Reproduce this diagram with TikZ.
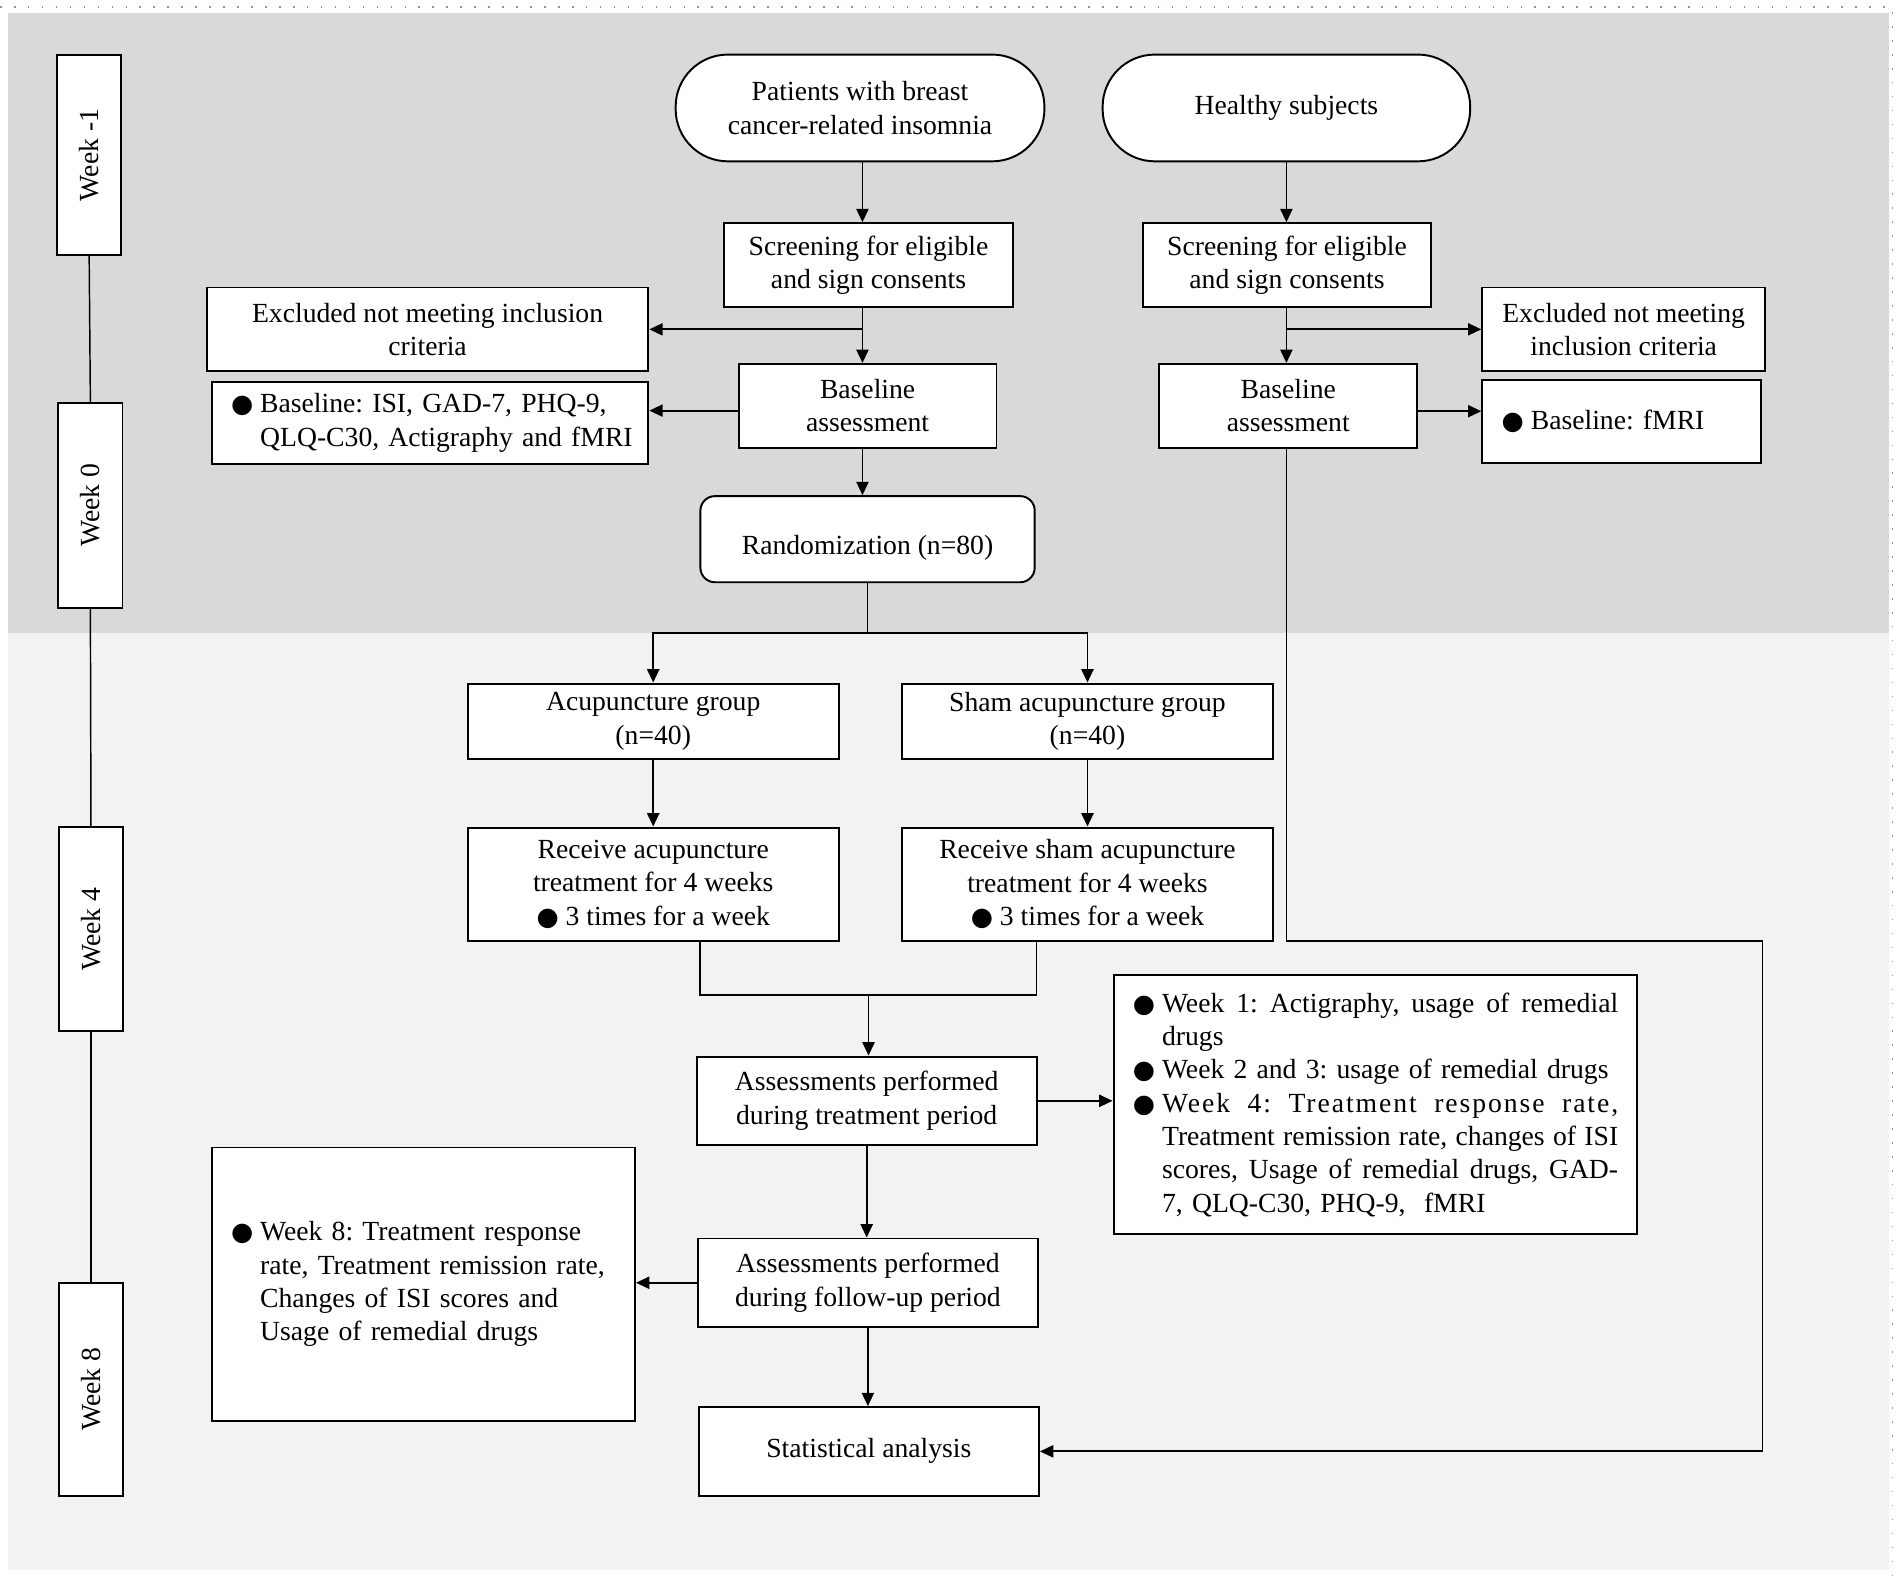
\documentclass[tikz,border=0pt]{standalone}
\usepackage{fontspec}
\setmainfont{Liberation Serif}
\newfontfamily\bulfont{DejaVu Sans}
\usetikzlibrary{arrows.meta}
\frenchspacing
\newcommand{\mainsize}{\fontsize{22.8}{27.5}\selectfont\frenchspacing}
\newcommand{\bul}{\makebox[24pt][l]{\bulfont\fontsize{21}{21}\selectfont ●}}
\newcommand{\ind}{\hspace*{24pt}}
\newcommand{\jline}[2][376pt]{\hbox to #1{\spaceskip=0.2em plus 1fil\relax #2}}
\definecolor{bgdark}{HTML}{D9D9D9}
\definecolor{bglight}{HTML}{F2F2F2}
\definecolor{dotcol}{RGB}{120,160,170}
\tikzset{
  box/.style={draw=black, line width=1.6pt, fill=white, align=center, inner sep=0pt, font=\mainsize},
  listbox/.style={box, align=left, inner xsep=16pt},
  stadium/.style={box, rounded corners=43pt},
  weekbox/.style={box, rotate=90},
  conn/.style={line width=1.5pt, -{Triangle[length=11pt,width=10pt]}},
  plain/.style={line width=1.5pt},
  timeline/.style={line width=1.2pt},
  dotborder/.style={dotcol, line width=1.3pt, dash pattern=on 1.3pt off 10.2pt}
}
\begin{document}
\begin{tikzpicture}[x=1pt,y=-1pt]
\useasboundingbox (0,0) rectangle (1568,1304);
\fill[white] (0,0) rectangle (1568,1304);
\fill[bgdark] (7,10.5) rectangle (1557.5,521.6);
\fill[bglight] (7,521.6) rectangle (1557.5,1294);
\draw[dotborder] (0,6) -- (1560,6) -- (1560,1304);

% week boxes
\node[weekbox, minimum width=164.6pt, minimum height=53pt] (wm1) at (73.5,127.7) {Week -1};
\node[weekbox, minimum width=169pt, minimum height=53pt] (w0) at (74.5,416.5) {Week 0};
\node[weekbox, minimum width=168pt, minimum height=53pt] (w4) at (75,766) {Week 4};
\node[weekbox, minimum width=175.5pt, minimum height=53pt] (w8) at (75,1145.25) {Week 8};
\draw[timeline] (wm1.west) -- (w0.east);
\draw[timeline] (w0.west) -- (w4.east);
\draw[timeline] (w4.west) -- (w8.east);

% left column (patients)
\node[stadium, minimum width=304pt, minimum height=88pt] (pat) at (709,89) {Patients with breast\\cancer-related insomnia};
\node[box, minimum width=238pt, minimum height=69pt] (scrL) at (716,218.5) {Screening for eligible\\and sign consents};
\node[box, minimum width=364pt, minimum height=69pt] (excL) at (352.5,271.5) {Excluded not meeting inclusion\\criteria};
\node[box, minimum width=212.5pt, minimum height=69pt] (basL) at (715.25,334.5) {Baseline\\assessment};
\node[listbox, text width=328pt, minimum height=68pt] (bbL) at (354.5,348.7) {\bul\mbox{Baseline: ISI, GAD-7, PHQ-9,}\\\ind\mbox{QLQ-C30, Actigraphy and fMRI}};
\node[box, rounded corners=12pt, minimum width=275.6pt, minimum height=71pt] (rand) at (715.2,444.5) {\raisebox{-7pt}[\height][\depth]{Randomization (n=80)}};
\node[box, minimum width=306pt, minimum height=62pt] (acu) at (538.5,594.5) {Acupuncture group\\(n=40)};
\node[box, minimum width=306pt, minimum height=62pt] (sham) at (896.5,594.5) {Sham acupuncture group\\(n=40)};
\node[box, minimum width=306pt, minimum height=93.6pt] (racu) at (538.5,729) {Receive acupuncture\\treatment for 4 weeks\\\bul 3 times for a week};
\node[box, minimum width=306pt, minimum height=93.6pt] (rsham) at (896.5,729) {Receive sham acupuncture\\treatment for 4 weeks\\\bul 3 times for a week};
\node[box, minimum width=280pt, minimum height=73pt] (atr) at (714.5,907.5) {Assessments performed\\during treatment period};
\node[listbox, text width=399.5pt, minimum height=213.5pt] (w1box) at (1133.75,910.75) {\bul\jline{Week 1: Actigraphy, usage of remedial}\\\ind drugs\\\bul\jline[368pt]{Week 2 and 3: usage of remedial drugs}\\\bul\jline{\addfontfeature{LetterSpace=7}Week 4: Treatment response rate,}\\\ind\jline{Treatment remission rate, changes of ISI}\\\ind\jline{scores, Usage of remedial drugs, GAD-}\\\ind\mbox{7, QLQ-C30, PHQ-9,\ \ fMRI}};
\node[box, minimum width=280pt, minimum height=73pt] (afu) at (715.5,1057.5) {Assessments performed\\during follow-up period};
\node[listbox, text width=317pt, minimum height=225.5pt] (w8box) at (349,1058.75) {\bul\mbox{Week 8: Treatment response}\\\ind\mbox{rate, Treatment remission rate,}\\\ind\mbox{Changes of ISI scores and}\\\ind\mbox{Usage of remedial drugs}};
\node[box, minimum width=280.5pt, minimum height=73pt] (stat) at (716.25,1196.5) {Statistical analysis};

% right column (healthy)
\node[stadium, minimum width=303pt, minimum height=88pt] (hea) at (1060.5,89) {Healthy subjects};
\node[box, minimum width=238pt, minimum height=69pt] (scrR) at (1061,218.5) {Screening for eligible\\and sign consents};
\node[box, minimum width=233pt, minimum height=69pt] (excR) at (1338.5,271.5) {Excluded not meeting\\inclusion criteria};
\node[box, minimum width=213pt, minimum height=69pt] (basR) at (1062,334.5) {Baseline\\assessment};
\node[listbox, text width=198pt, minimum height=68pt] (fmri) at (1337,347.5) {\bul\mbox{Baseline: fMRI}};

% helper coordinates
\coordinate (xL) at (711,0);
\coordinate (xR) at (1060.5,0);
\coordinate (sp) at (715.2,521.6);
\coordinate (mA) at (577.4,0);
\coordinate (mB) at (854.5,0);
\coordinate (mg) at (716,820);
\coordinate (c1) at (1453,775.8);

% connectors left
\draw[conn] (pat.south -| xL) -- (scrL.north -| xL);
\draw[conn] (scrL.south -| xL) -- (basL.north -| xL);
\draw[conn] (excL.east -| xL) -- (excL.east);
\draw[conn] ([yshift=-4pt]basL.west) -- ([yshift=-4pt]basL.west -| bbL.east);
\draw[conn] (basL.south -| xL) -- (rand.north -| xL);
\draw[plain] (rand.south) -- (sp);
\draw[conn] (sp) -| (acu.north);
\draw[conn] (sp) -| (sham.north);
\draw[conn] (acu.south) -- (racu.north);
\draw[conn] (sham.south) -- (rsham.north);
\draw[plain] (racu.south -| mA) |- (mg) -| (rsham.south -| mB);
\draw[conn] (mg) -- (atr.north -| mg);
\draw[conn] (atr.east) -- (atr.east -| w1box.west);
\draw[conn] (atr.south) -- (atr.south |- afu.north);
\draw[conn] (afu.west) -- (afu.west -| w8box.east);
\draw[conn] (afu.south) -- (afu.south |- stat.north);

% connectors right
\draw[conn] (hea.south -| xR) -- (scrR.north -| xR);
\draw[conn] (scrR.south -| xR) -- (basR.north -| xR);
\draw[conn] (excR.west -| xR) -- (excR.west);
\draw[conn] ([yshift=-4.5pt]basR.east) -- ([yshift=-4.5pt]basR.east -| fmri.west);
\draw[conn] (basR.south -| xR) |- (c1) |- (stat.east);
\end{tikzpicture}
\end{document}
